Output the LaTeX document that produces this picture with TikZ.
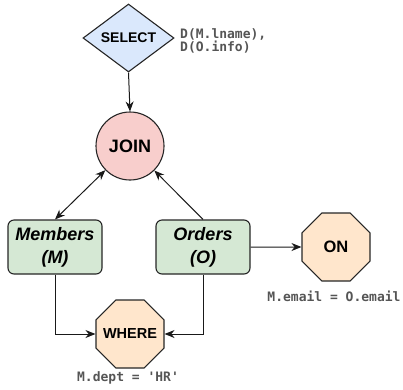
\documentclass[tikz,border=0pt]{standalone}
\usepackage{fontspec}
\setmainfont{Liberation Sans}
\newfontfamily\codefont{DejaVu Sans Mono}
\usepackage{xcolor}
\usepackage{tikz}
\usetikzlibrary{positioning,arrows.meta,shapes.geometric}

\definecolor{selblue}{HTML}{DAE8FC}
\definecolor{joinred}{HTML}{F8CECC}
\definecolor{tblgreen}{HTML}{D5E8D4}
\definecolor{condorange}{HTML}{FFE6CC}
\definecolor{codegray}{HTML}{555555}

\tikzset{
  opshape/.style={draw=black!85, line width=1.1pt, inner sep=0pt, text=black,
    font=\bfseries},
  tbl/.style={opshape, fill=tblgreen, rounded corners=6pt, minimum width=94pt,
    minimum height=54pt, align=center, font=\bfseries\itshape\fontsize{18}{23}\selectfont},
  cond/.style={opshape, fill=condorange, regular polygon, regular polygon sides=8,
    minimum size=73.6pt},
  code/.style={text=codegray, font=\codefont\bfseries\fontsize{13}{13.5}\selectfont,
    inner sep=0pt, align=left},
  flow/.style={draw=black!90, line width=1pt, -{Stealth[length=10pt,width=8pt]}}
}

\begin{document}
\begin{tikzpicture}[x=1pt,y=-1pt]
\useasboundingbox (0,0) rectangle (403,389);

% Operators
\node[opshape, diamond, fill=selblue, minimum width=91pt, minimum height=68pt,
  font=\bfseries\fontsize{14}{14}\selectfont] (select) at (128.5,38) {SELECT};
\node[code, anchor=west] (sellbl) at (180,41) {D(M.lname),\\D(O.info)};

\node[opshape, circle, fill=joinred, minimum size=68pt,
  font=\bfseries\fontsize{18}{18}\selectfont] (join) at (130,146) {JOIN};

% Tables
\node[tbl] (members) at (55,247) {Members\\(M)};
\node[tbl] (orders) at (203,247) {Orders\\(O)};

% Conditions (zero-width text keeps the octagons at their set size)
\node[cond, font=\bfseries\fontsize{16.5}{16.5}\selectfont] (on) at (336,247) {\makebox[0pt]{ON}};
\node[code] (onlbl) at (334,296) {M.email = O.email};

\node[cond, font=\bfseries\fontsize{14.5}{14.5}\selectfont] (where) at (130,334) {\makebox[0pt]{WHERE}};
\node[code] (wherelbl) at (128,378) {M.dept = 'HR'};

% Edges
\draw[flow] (select.south) -- (join.north);
\draw[flow, {Stealth[length=10pt,width=8pt]}-{Stealth[length=10pt,width=8pt]}] (members.north) -- (join);
\draw[flow] (orders.north) -- (join);
\draw[flow] (orders.east) -- (on.west);
\draw[flow] (members.south) |- (where.west);
\draw[flow] (orders.south) |- (where.east);
\end{tikzpicture}
\end{document}
